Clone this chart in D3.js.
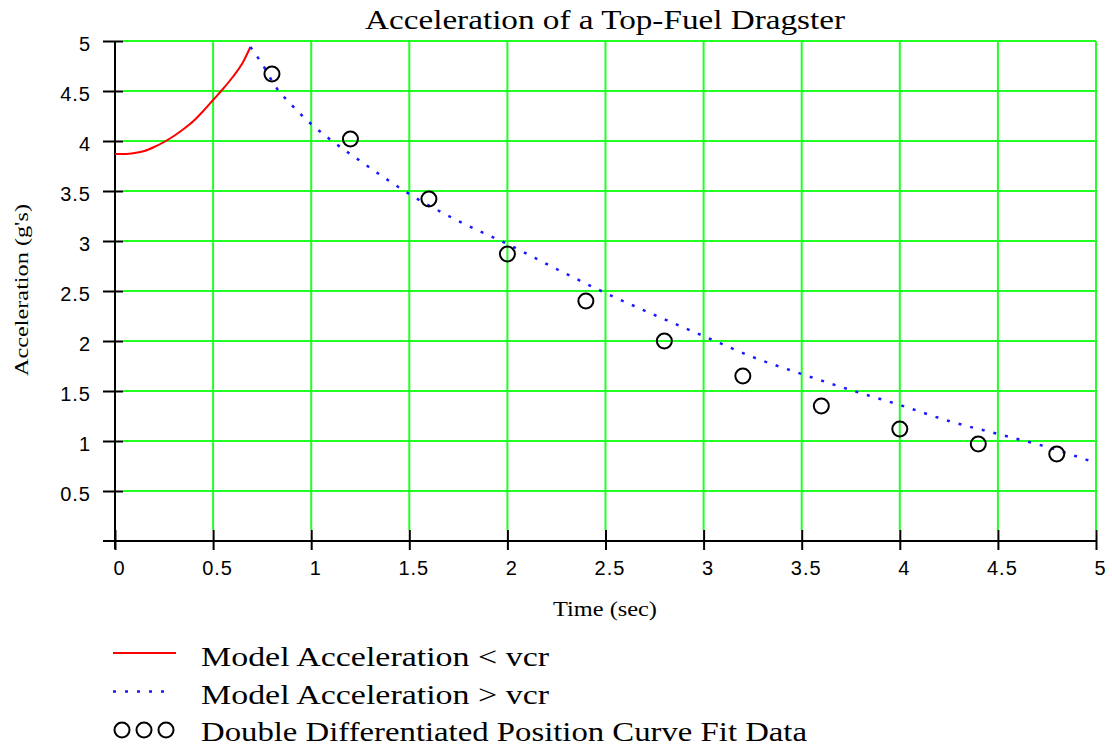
<html>
<head>
    <meta charset="UTF-8">
    <title>Acceleration of a Top-Fuel Dragster</title>
    <script src="https://cdn.jsdelivr.net/npm/d3@7/dist/d3.min.js" charset="utf-8"></script>
    <style>
        body { margin: 0; background: #fff; }
    </style>
</head>
<body>
    <svg id="mySvg" width="1112" height="751"></svg>
    <script>
        // model curve below critical velocity (red)
        var lowTime = [0, 0.05, 0.1, 0.15, 0.2, 0.25, 0.3, 0.35, 0.4, 0.45, 0.5, 0.55, 0.6, 0.65, 0.69];
        var lowAcc = [3.87, 3.87, 3.88, 3.9, 3.94, 3.99, 4.05, 4.12, 4.2, 4.3, 4.41, 4.52, 4.64, 4.78, 4.94];
        // model curve above critical velocity (blue dotted)
        var highTime = [0.69, 0.75, 0.82, 0.9, 1.0, 1.1, 1.25, 1.375, 1.5, 1.75, 2.0, 2.25, 2.5, 2.75, 3.0, 3.25, 3.5, 3.75, 4.0, 4.25, 4.5, 4.75, 5.0];
        var highAcc = [4.94, 4.77, 4.54, 4.36, 4.17, 4.01, 3.8, 3.63, 3.47, 3.2, 2.97, 2.72, 2.48, 2.26, 2.05, 1.84, 1.67, 1.51, 1.36, 1.2, 1.07, 0.94, 0.78];
        // curve fit data (circles)
        var fitTime = [0.8, 1.2, 1.6, 2.0, 2.4, 2.8, 3.2, 3.6, 4.0, 4.4, 4.8];
        var fitAcc = [4.67, 4.02, 3.42, 2.87, 2.4, 2.0, 1.65, 1.35, 1.12, 0.97, 0.87];
        var xTicks = [0, 0.5, 1, 1.5, 2, 2.5, 3, 3.5, 4, 4.5, 5];
        var yTicks = [0.5, 1, 1.5, 2, 2.5, 3, 3.5, 4, 4.5, 5];
        var legendLabels = ["Model Acceleration < vcr", "Model Acceleration > vcr", "Double Differentiated Position Curve Fit Data"];

        var svg = d3.select("#mySvg");
        var serif = "'Liberation Serif', 'DejaVu Serif', serif";
        var sans = "'Liberation Sans', 'DejaVu Sans', sans-serif";
        var green = "#22ff22";

        var x = d3.scaleLinear().domain([0, 5]).range([115, 1096]);
        var y = d3.scaleLinear().domain([0, 5]).range([541, 41]);

        // grid
        svg.append("g").selectAll("line.h")
            .data(yTicks)
            .enter().append("line")
            .attr("x1", 123).attr("x2", x(5))
            .attr("y1", function (d) { return y(d); })
            .attr("y2", function (d) { return y(d); })
            .style("stroke", green).style("stroke-width", 2);
        svg.append("g").selectAll("line.v")
            .data(xTicks.slice(1))
            .enter().append("line")
            .attr("x1", function (d) { return x(d); })
            .attr("x2", function (d) { return x(d); })
            .attr("y1", y(5)).attr("y2", 530)
            .style("stroke", green).style("stroke-width", 2);

        // axes
        var xAxis = svg.append("g")
            .attr("transform", "translate(0," + y(0) + ")")
            .call(d3.axisBottom(x).tickValues(xTicks).tickSize(9).tickFormat(d3.format("")));
        xAxis.select(".domain").remove();
        xAxis.selectAll(".tick line").attr("y1", -11).style("stroke-width", 2);
        xAxis.selectAll(".tick text")
            .attr("dx", 4).attr("y", 20)
            .style("font-family", sans).style("font-size", "20px").style("letter-spacing", "1px");
        svg.append("line")
            .attr("x1", 103).attr("x2", x(5))
            .attr("y1", y(0)).attr("y2", y(0))
            .style("stroke", "#000").style("stroke-width", 2);

        var yAxis = svg.append("g")
            .attr("transform", "translate(" + x(0) + ",0)")
            .call(d3.axisLeft(y).tickValues(yTicks).tickSize(12).tickFormat(d3.format("")));
        yAxis.select(".domain").remove();
        yAxis.selectAll(".tick line").attr("x1", 8).attr("x2", -12).style("stroke-width", 2);
        yAxis.selectAll(".tick text")
            .attr("x", -24).attr("dy", "0.45em")
            .style("font-family", sans).style("font-size", "20px").style("letter-spacing", "1px");
        svg.append("line")
            .attr("x1", x(0)).attr("x2", x(0))
            .attr("y1", y(5)).attr("y2", 549)
            .style("stroke", "#000").style("stroke-width", 2);

        // curves
        var line = d3.line()
            .x(function (d) { return x(d[0]); })
            .y(function (d) { return y(d[1]); })
            .curve(d3.curveMonotoneX);
        svg.append("path")
            .datum(d3.zip(lowTime, lowAcc))
            .attr("d", line)
            .style("fill", "none").style("stroke", "#ff0000").style("stroke-width", 2);
        svg.append("path")
            .datum(d3.zip(highTime, highAcc))
            .attr("d", line)
            .style("fill", "none").style("stroke", "#1a1aff").style("stroke-width", 2.5)
            .style("stroke-dasharray", "3,9");
        svg.append("g").selectAll("circle")
            .data(d3.zip(fitTime, fitAcc))
            .enter().append("circle")
            .attr("cx", function (d) { return x(d[0]); })
            .attr("cy", function (d) { return y(d[1]); })
            .attr("r", 7.5)
            .style("fill", "none").style("stroke", "#000").style("stroke-width", 2);

        // titles
        svg.append("text")
            .attr("x", 605).attr("y", 29)
            .attr("text-anchor", "middle")
            .attr("textLength", 480).attr("lengthAdjust", "spacingAndGlyphs")
            .style("font-family", serif).style("font-size", "28px")
            .text("Acceleration of a Top-Fuel Dragster");
        svg.append("text")
            .attr("x", 605).attr("y", 616)
            .attr("text-anchor", "middle")
            .attr("textLength", 104).attr("lengthAdjust", "spacingAndGlyphs")
            .style("font-family", serif).style("font-size", "20px")
            .text("Time (sec)");
        svg.append("text")
            .attr("transform", "translate(28,290) rotate(-90)")
            .attr("text-anchor", "middle")
            .attr("textLength", 172).attr("lengthAdjust", "spacingAndGlyphs")
            .style("font-family", serif).style("font-size", "19px")
            .text("Acceleration (g's)");

        // legend
        var legendY = [666, 704, 741];
        var legendW = [348, 348, 606];
        svg.append("line")
            .attr("x1", 113).attr("x2", 176)
            .attr("y1", 653).attr("y2", 653)
            .style("stroke", "#ff0000").style("stroke-width", 2);
        svg.append("line")
            .attr("x1", 113).attr("x2", 166)
            .attr("y1", 691.5).attr("y2", 691.5)
            .style("stroke", "#1a1aff").style("stroke-width", 2.5)
            .style("stroke-dasharray", "3,9");
        svg.append("g").selectAll("circle")
            .data([122, 144, 166])
            .enter().append("circle")
            .attr("cx", function (d) { return d; })
            .attr("cy", 730)
            .attr("r", 7.5)
            .style("fill", "none").style("stroke", "#000").style("stroke-width", 2);
        svg.append("g").selectAll("text")
            .data(legendLabels)
            .enter().append("text")
            .attr("x", 201)
            .attr("y", function (d, i) { return legendY[i]; })
            .attr("textLength", function (d, i) { return legendW[i]; })
            .attr("lengthAdjust", "spacingAndGlyphs")
            .style("font-family", serif).style("font-size", "27px")
            .text(function (d) { return d; });
    </script>
</body>
</html>
